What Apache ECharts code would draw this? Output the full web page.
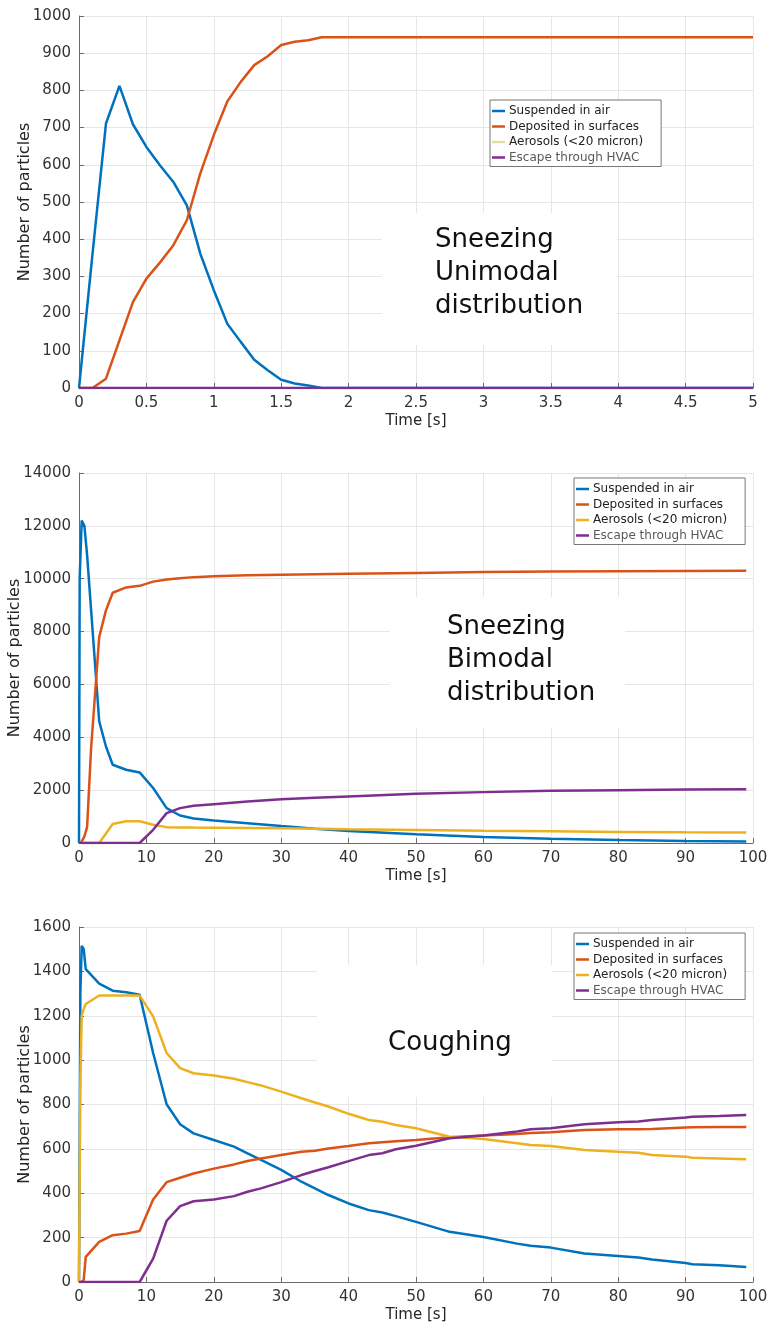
<!DOCTYPE html>
<html>
<head>
<meta charset="utf-8">
<script src="https://cdn.jsdelivr.net/npm/echarts@6/dist/echarts.min.js"></script>
<style>
html,body{margin:0;padding:0;background:#fff;}
#chart{width:768px;height:1323px;}
</style>
</head>
<body>
<div id="chart"></div>
<script>
// ---------- DATA ----------
const seriesNames = ['Suspended in air', 'Deposited in surfaces', 'Aerosols (<20 micron)', 'Escape through HVAC'];

// Chart 1: Sneezing, unimodal distribution
const t1 = [0, 0.1, 0.2, 0.3, 0.4, 0.5, 0.6, 0.7, 0.8, 0.9, 1.0, 1.1, 1.2, 1.3, 1.4, 1.5, 1.6, 1.7, 1.8, 5];
const suspended1 = [0, 360, 711, 812, 709, 648, 599, 554, 491, 361, 263, 173, 124, 76, 48, 22, 12, 7, 0, 0];
const deposited1 = [0, 0, 25, 128, 231, 294, 337, 384, 451, 577, 680, 770, 823, 868, 892, 922, 931, 935, 943, 943];
const aerosols1  = [0, 0, 0, 0, 0, 0, 0, 0, 0, 0, 0, 0, 0, 0, 0, 0, 0, 0, 0, 0];
const escape1    = [0, 0, 0, 0, 0, 0, 0, 0, 0, 0, 0, 0, 0, 0, 0, 0, 0, 0, 0, 0];

// Chart 2: Sneezing, bimodal distribution
const t2 = [0, 0.1, 0.4, 0.8, 1.2, 1.8, 3, 4, 5, 7, 9, 11, 13, 15, 17, 20, 25, 30, 35, 40, 50, 60, 70, 80, 90, 99];
const suspended2 = [0, 10000, 12200, 12000, 10900, 8800, 4600, 3650, 2960, 2770, 2670, 2080, 1320, 1040, 930, 850, 750, 640, 540, 450, 330, 230, 160, 110, 75, 55];
const deposited2 = [0, 0, 50, 250, 600, 3600, 7800, 8800, 9470, 9670, 9730, 9890, 9970, 10020, 10060, 10090, 10130, 10150, 10170, 10190, 10220, 10250, 10270, 10280, 10290, 10300];
const aerosols2  = [0, 0, 0, 0, 0, 0, 0, 360, 720, 820, 820, 690, 600, 590, 585, 580, 570, 560, 540, 520, 490, 460, 440, 420, 405, 400];
const escape2    = [0, 0, 0, 0, 0, 0, 0, 0, 0, 0, 0, 500, 1130, 1320, 1410, 1470, 1570, 1660, 1710, 1760, 1860, 1925, 1973, 2000, 2020, 2037];

// Chart 3: Coughing
const t3 = [0, 0.2, 0.4, 0.7, 1, 3, 5, 7, 9, 11, 13, 15, 17, 20, 23, 25, 27, 30, 33, 35, 37, 40, 43, 45, 47, 50, 55, 60, 65, 67, 70, 75, 80, 83, 85, 90, 91, 95, 99];
const suspended3 = [0, 1300, 1515, 1500, 1410, 1345, 1313, 1306, 1295, 1032, 801, 711, 670, 640, 610, 580, 550, 505, 452, 422, 392, 354, 324, 313, 297, 271, 226, 203, 173, 163, 155, 128, 117, 110, 101, 86, 80, 75, 68];
const deposited3 = [0, 0, 0, 10, 113, 181, 211, 218, 230, 372, 450, 470, 489, 511, 530, 545, 557, 572, 587, 592, 602, 613, 625, 630, 634, 640, 652, 660, 667, 672, 675, 685, 688, 689, 690, 696, 697, 699, 699];
const aerosols3  = [0, 900, 1200, 1230, 1253, 1291, 1291, 1291, 1291, 1197, 1032, 964, 941, 931, 916, 901, 886, 858, 828, 809, 791, 758, 730, 722, 708, 693, 655, 645, 625, 617, 613, 595, 587, 583, 572, 565, 560, 557, 553];
const escape3    = [0, 0, 0, 0, 0, 0, 0, 0, 0, 105, 276, 342, 364, 372, 387, 407, 422, 450, 482, 500, 517, 545, 572, 580, 598, 614, 648, 660, 678, 688, 693, 711, 720, 723, 730, 741, 745, 748, 753];

const annotations = [['Sneezing', 'Unimodal', 'distribution'], ['Sneezing', 'Bimodal', 'distribution'], ['Coughing']];

// ---------- STYLE ----------
const C = ['#0072BD', '#D95319', '#EDB120', '#7E2F8E'];
const PALE = '#e4dca0';
const FONT = 'DejaVu Sans';
const zip = (t, v) => t.map((x, i) => [x, v[i]]);

const panels = [
  { t: t1, vals: [suspended1, deposited1, aerosols1, escape1], top: 16, height: 372, xMax: 5, xInt: 0.5, yMax: 1000, yInt: 100, nameGap: 46,
    legend: { left: 490, top: 100 }, box: { x: 382, y: 213, w: 235, h: 132 }, text: { x: 435, y: 224 }, paleAerosol: true },
  { t: t2, vals: [suspended2, deposited2, aerosols2, escape2], top: 473, height: 370, xMax: 100, xInt: 10, yMax: 14000, yInt: 2000, nameGap: 56,
    legend: { left: 574, top: 478 }, box: { x: 390, y: 597, w: 235, h: 131 }, text: { x: 447, y: 611 } },
  { t: t3, vals: [suspended3, deposited3, aerosols3, escape3], top: 927, height: 355, xMax: 100, xInt: 10, yMax: 1600, yInt: 200, nameGap: 46,
    legend: { left: 574, top: 933 }, box: { x: 317, y: 965, w: 235, h: 132 }, text: { x: 388, y: 1027 } }
];

const grid = [], xAxis = [], yAxis = [], series = [], legend = [], graphic = [];
panels.forEach((p, k) => {
  grid.push({ left: 79, right: 15, top: p.top, height: p.height, containLabel: false, outerBoundsMode: 'none' });
  xAxis.push({
    type: 'value', gridIndex: k, min: 0, max: p.xMax, interval: p.xInt,
    name: 'Time [s]', nameLocation: 'middle', nameGap: 26, nameMoveOverlap: false,
    nameTextStyle: { fontFamily: FONT, fontSize: 15, color: '#262626' },
    axisLine: { show: true, lineStyle: { color: '#6b6b6b', width: 1 } },
    axisTick: { show: true, inside: true, length: 5, lineStyle: { color: '#6b6b6b' } },
    axisLabel: { fontFamily: FONT, fontSize: 15, color: '#333', margin: 8, formatter: (v) => String(v) },
    splitLine: { show: true, lineStyle: { color: '#e6e6e6', width: 1 } }
  });
  yAxis.push({
    type: 'value', gridIndex: k, min: 0, max: p.yMax, interval: p.yInt,
    name: 'Number of particles', nameLocation: 'middle', nameGap: p.nameGap, nameRotate: 90, nameMoveOverlap: false,
    nameTextStyle: { fontFamily: FONT, fontSize: 16, color: '#262626' },
    axisLine: { show: true, lineStyle: { color: '#6b6b6b', width: 1 } },
    axisTick: { show: true, inside: true, length: 5, lineStyle: { color: '#6b6b6b' } },
    axisLabel: { fontFamily: FONT, fontSize: 15, color: '#333', margin: 8, formatter: (v) => String(v) },
    splitLine: { show: true, lineStyle: { color: '#e6e6e6', width: 1 } }
  });
  seriesNames.forEach((nm, i) => {
    const pale = p.paleAerosol && i === 2;
    series.push({
      name: nm, type: 'line', xAxisIndex: k, yAxisIndex: k,
      data: zip(p.t, p.vals[i]), showSymbol: false, symbol: 'none', animation: false,
      lineStyle: { width: pale ? 1 : 2.5, color: pale ? PALE : C[i] },
      itemStyle: { color: pale ? PALE : C[i] },
      z: 3
    });
  });
  legend.push({
    orient: 'vertical', left: p.legend.left, top: p.legend.top,
    backgroundColor: '#fff', borderColor: '#777', borderWidth: 1,
    padding: [5, 18, 3, 2], itemGap: 3.5, itemWidth: 13, itemHeight: 2.5, icon: 'rect',
    selectedMode: false,
    textStyle: { fontFamily: FONT, fontSize: 12, color: '#222', lineHeight: 12, padding: [0, 0, 0, -1] },
    data: seriesNames.map((nm, i) => {
      const col = (p.paleAerosol && i === 2) ? PALE : C[i];
      const item = { name: nm, itemStyle: { color: col } };
      if (i === 3) item.textStyle = { color: '#5a5a5a' };
      return item;
    })
  });
  graphic.push({ type: 'rect', shape: { x: p.box.x, y: p.box.y, width: p.box.w, height: p.box.h }, style: { fill: '#fff' }, z: 1, silent: true });
  graphic.push({
    type: 'text', left: p.text.x, top: p.text.y, z: 5, silent: true,
    style: { text: annotations[k].join('\n'), font: '26px "DejaVu Sans"', fill: '#111', lineHeight: 33 }
  });
});

const chart = echarts.init(document.getElementById('chart'), null, { renderer: 'canvas' });
chart.setOption({
  animation: false,
  backgroundColor: '#fff',
  textStyle: { fontFamily: FONT },
  grid, xAxis, yAxis, series, legend, graphic
});
</script>
</body>
</html>
